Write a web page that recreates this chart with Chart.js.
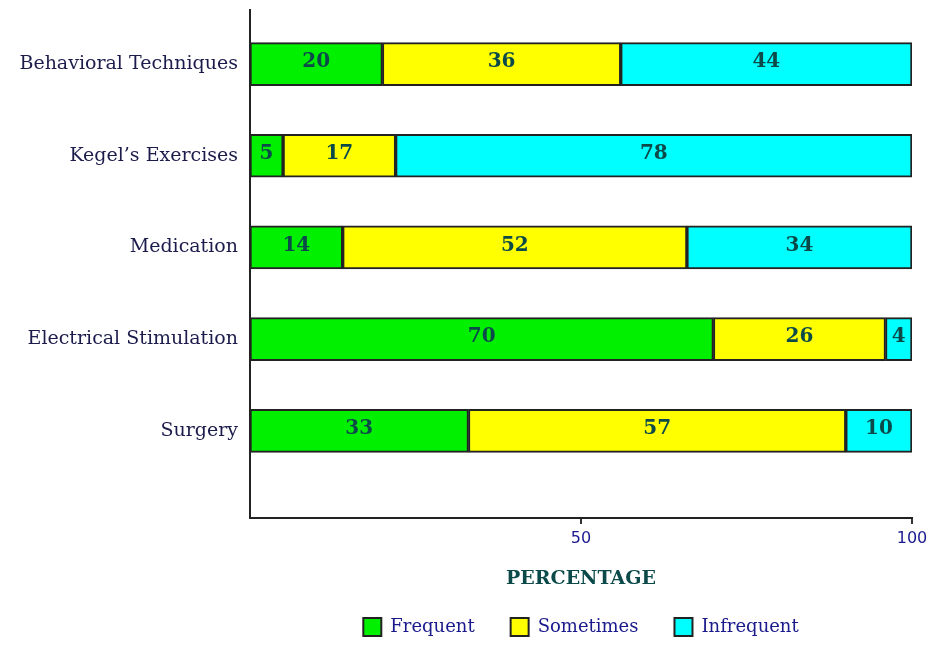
<!DOCTYPE html>
<html>
<head>
<meta charset="utf-8">
<script src="https://cdn.jsdelivr.net/npm/chart.js@4.4.1/dist/chart.umd.min.js"></script>
<style>
  html, body { margin: 0; padding: 0; background: #fff; }
  #wrap { width: 934px; height: 646px; }
</style>
</head>
<body>
<div id="wrap"><canvas id="treatment-chart"></canvas></div>
<script>
var categories = ['Behavioral Techniques', 'Kegel\u2019s Exercises', 'Medication', 'Electrical Stimulation', 'Surgery'];
var frequent = [20, 5, 14, 70, 33];
var sometimes = [36, 17, 52, 26, 57];
var infrequent = [44, 78, 34, 4, 10];
var xTicks = [50, 100];

function toPoints(values) {
  return values.map(function (v, i) { return { x: v, y: i }; });
}

// draws the number in the middle of each segment
var segmentLabels = {
  id: 'segmentLabels',
  afterDatasetsDraw: function (chart) {
    var ctx = chart.ctx;
    ctx.save();
    ctx.font = 'bold 20px "DejaVu Serif"';
    ctx.fillStyle = '#0c4a4a';
    ctx.textAlign = 'center';
    ctx.textBaseline = 'middle';
    chart.data.datasets.forEach(function (ds, di) {
      chart.getDatasetMeta(di).data.forEach(function (bar, i) {
        var p = bar.getProps(['x', 'y', 'base'], true);
        ctx.fillText(ds.data[i].x, (p.x + p.base) / 2, p.y - 2);
      });
    });
    ctx.restore();
  }
};

var ctx = document.getElementById('treatment-chart');

var myBarChart = new Chart(ctx, {
  type: 'bar',
  data: {
    datasets: [{
      label: 'Frequent',
      data: toPoints(frequent),
      backgroundColor: '#00f000',
      borderColor: '#222222',
      borderWidth: 2,
      borderSkipped: false,
      barThickness: 43
    }, {
      label: 'Sometimes',
      data: toPoints(sometimes),
      backgroundColor: '#ffff00',
      borderColor: '#222222',
      borderWidth: 2,
      borderSkipped: false,
      barThickness: 43
    }, {
      label: 'Infrequent',
      data: toPoints(infrequent),
      backgroundColor: '#00ffff',
      borderColor: '#222222',
      borderWidth: 2,
      borderSkipped: false,
      barThickness: 43
    }]
  },
  options: {
    indexAxis: 'y',
    responsive: true,
    maintainAspectRatio: false,
    animation: false,
    layout: { padding: { top: 10, right: 22, bottom: 0, left: 0 } },
    scales: {
      x: {
        type: 'linear',
        stacked: true,
        min: 0,
        max: 100,
        afterBuildTicks: function (scale) {
          scale.ticks = xTicks.map(function (v) { return { value: v }; });
        },
        afterFit: function (scale) { scale.height = 64; },
        grid: { display: true, drawOnChartArea: false, drawTicks: true, tickLength: 6, color: '#333333', lineWidth: 2 },
        border: { display: true, color: '#222222', width: 2 },
        ticks: { color: '#1a1a90', font: { family: '"DejaVu Sans"', size: 16 }, padding: 5, maxRotation: 0 },
        title: {
          display: true,
          text: 'PERCENTAGE',
          color: '#0c4a4a',
          font: { family: '"DejaVu Serif"', size: 19, weight: 'bold' },
          padding: { top: 0, bottom: -8 }
        }
      },
      y: {
        type: 'linear',
        stacked: true,
        reverse: true,
        offset: false,
        min: -0.59,
        max: 4.951,
        afterBuildTicks: function (scale) {
          scale.ticks = categories.map(function (c, i) { return { value: i }; });
        },
        afterFit: function (scale) {
          scale.width = 250;
          scale.paddingTop = 0;
          scale.paddingBottom = 0;
        },
        grid: { display: false, drawTicks: false, offset: false },
        border: { display: true, color: '#222222', width: 2 },
        ticks: {
          color: '#1c1c4c',
          font: { family: '"DejaVu Serif"', size: 19 },
          padding: 12,
          autoSkip: false,
          callback: function (v) { return categories[v]; }
        }
      }
    },
    plugins: {
      legend: {
        position: 'bottom',
        fullSize: false,
        labels: {
          color: '#1a1a8c',
          font: { family: '"DejaVu Serif"', size: 18 },
          boxWidth: 18,
          boxHeight: 18,
          padding: 36
        }
      },
      tooltip: { enabled: false }
    }
  },
  plugins: [segmentLabels]
});
</script>
</body>
</html>
